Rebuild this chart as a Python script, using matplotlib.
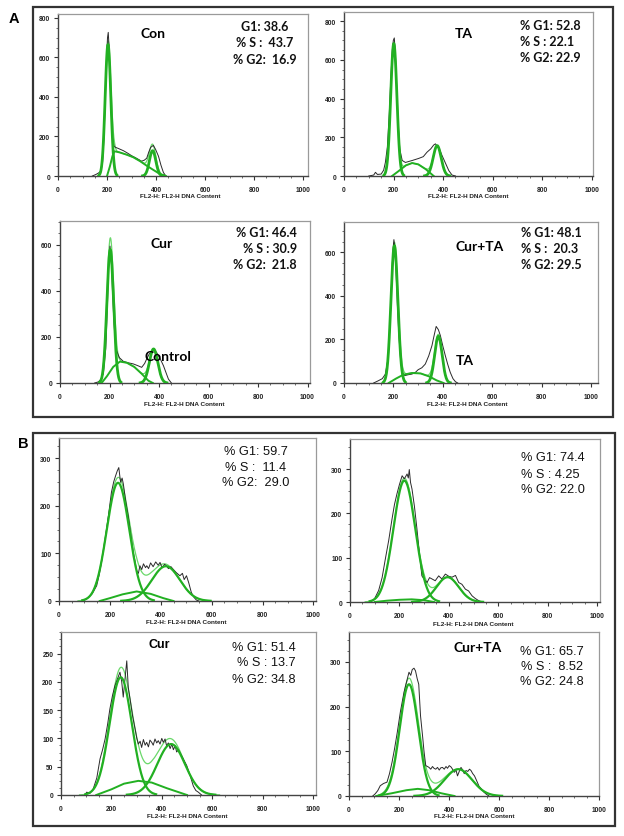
import numpy as np
import matplotlib
matplotlib.use("Agg")
import matplotlib.pyplot as plt
from matplotlib.patches import Rectangle
from matplotlib.ticker import MultipleLocator, AutoMinorLocator

W, H = 624, 837

# ------------------------------------------------------------------ data
# Panel A, "Con"
A_CON_HIST_X = [140, 155, 165, 175, 182, 188, 193, 198, 202, 205, 209, 213, 218, 223, 229, 235, 245, 267, 285, 300, 320, 341, 352, 362, 370, 378, 389, 398, 410, 420, 430, 440]
A_CON_HIST_Y = [0, 8, 15, 25, 70, 200, 400, 600, 700, 727, 640, 470, 300, 190, 150, 145, 140, 128, 115, 103, 90, 75, 80, 90, 120, 145, 155, 135, 100, 55, 18, 0]
A_CON_G1 = [204, 665, 11.5]     # centre, height, sd
A_CON_G2 = [386, 128, 13]
A_CON_S_X = [200, 212, 222, 230, 250, 280, 307, 335, 362, 390, 416, 440]
A_CON_S_Y = [0, 50, 100, 125, 120, 108, 95, 75, 52, 30, 10, 0]
A_CON_STATS = ["G1: 38.6", "% S :  43.7", "% G2:  16.9"]

# Panel A, "TA"
A_TA_HIST_X = [100, 120, 127, 135, 150, 160, 167, 175, 183, 190, 195, 199, 203, 207, 212, 218, 225, 235, 248, 275, 302, 320, 335, 350, 362, 369, 376, 385, 396, 410, 423, 436, 450]
A_TA_HIST_Y = [0, 5, 19, 8, 10, 30, 70, 150, 330, 530, 650, 700, 713, 640, 480, 280, 140, 80, 70, 80, 91, 100, 123, 140, 160, 166, 155, 140, 105, 65, 28, 5, 0]
A_TA_G1 = [201, 684, 12.5]
A_TA_G2 = [376, 157, 16]
A_TA_S_X = [194, 220, 250, 275, 300, 330, 362]
A_TA_S_Y = [0, 25, 55, 67, 60, 35, 0]
A_TA_STATS = ["% G1: 52.8", "% S : 22.1", "% G2: 22.9"]

# Panel A, "Cur"
A_CUR_HIST_X = [140, 155, 165, 175, 185, 192, 197, 202, 207, 212, 218, 224, 229, 240, 256, 275, 296, 315, 330, 342, 350, 360, 370, 380, 390, 405, 418, 430, 438, 450]
A_CUR_HIST_Y = [0, 5, 15, 40, 150, 350, 530, 595, 540, 400, 260, 170, 140, 110, 94, 88, 83, 75, 68, 85, 104, 125, 140, 145, 133, 105, 75, 40, 17, 0]
A_CUR_G1 = [203, 580, 13.5]
A_CUR_G2 = [378, 148, 17]
A_CUR_S_X = [168, 190, 215, 242, 270, 300, 330, 357, 375]
A_CUR_S_Y = [0, 30, 70, 93, 88, 70, 40, 10, 0]
A_CUR_STATS = ["% G1: 46.4", "% S : 30.9", "% G2:  21.8"]

# Panel A, "Cur+TA"
A_CURTA_HIST_X = [120, 140, 155, 167, 178, 186, 193, 198, 202, 206, 211, 216, 222, 230, 238, 246, 260, 275, 290, 300, 315, 329, 343, 356, 365, 373, 382, 390, 400, 410, 420, 430, 441, 451, 460]
A_CURTA_HIST_Y = [0, 11, 20, 40, 110, 260, 470, 610, 659, 620, 500, 360, 220, 90, 45, 34, 38, 41, 50, 61, 70, 87, 125, 172, 220, 260, 245, 218, 170, 126, 85, 49, 20, 6, 0]
A_CURTA_G1 = [204, 631, 14]
A_CURTA_G2 = [382, 215, 15]
A_CURTA_S_X = [181, 210, 240, 275, 310, 345, 375, 403]
A_CURTA_S_Y = [0, 20, 38, 46, 44, 30, 12, 0]
A_CURTA_STATS = ["% G1: 48.1", "% S :  20.3", "% G2: 29.5"]

# Panel B, control
B_CON_HIST_X = [95, 110, 130, 148, 158, 167, 177, 187, 197, 206, 215, 222, 229, 235, 242, 248, 253, 262, 272, 282, 292, 300, 305, 312, 318, 325, 332, 340, 345, 352, 360, 370, 380, 390, 397, 405, 415, 422, 430, 440, 448, 460, 475, 485, 492, 501, 510, 520, 530, 540, 550]
B_CON_HIST_Y = [0, 5, 15, 32, 55, 81, 115, 151, 190, 228, 250, 262, 273, 280, 249, 258, 245, 210, 179, 140, 102, 80, 64, 58, 74, 66, 78, 70, 74, 68, 80, 72, 82, 75, 81, 70, 77, 74, 68, 72, 67, 60, 53, 58, 45, 53, 38, 18, 8, 2, 0]
B_CON_G1 = [232, 248, 44]
B_CON_G2 = [420, 73, 55]
B_CON_S_X = [160, 200, 250, 305, 360, 410, 450]
B_CON_S_Y = [0, 6, 14, 20, 15, 6, 0]
B_CON_STATS = ["% G1: 59.7", "% S :  11.4", "% G2:  29.0"]

# Panel B, TA
B_TA_HIST_X = [85, 100, 116, 130, 143, 157, 170, 180, 190, 200, 211, 220, 231, 236, 240, 245, 251, 261, 271, 281, 291, 302, 312, 322, 332, 345, 359, 372, 386, 400, 413, 427, 440, 453, 467, 480, 494, 507, 521, 535]
B_TA_HIST_Y = [0, 8, 26, 55, 97, 140, 187, 220, 244, 265, 285, 278, 289, 280, 299, 270, 255, 215, 165, 110, 59, 50, 44, 55, 52, 48, 59, 52, 63, 58, 56, 60, 44, 40, 29, 25, 14, 8, 3, 0]
B_TA_G1 = [220, 274, 44]
B_TA_G2 = [395, 56, 45]
B_TA_S_X = [100, 150, 200, 250, 300, 340]
B_TA_S_Y = [0, 3, 5, 6, 4, 0]
B_TA_STATS = ["% G1: 74.4", "% S : 4.25", "% G2: 22.0"]

# Panel B, Cur
B_CUR_HIST_X = [95, 102, 115, 128, 142, 155, 165, 175, 185, 194, 204, 214, 224, 234, 241, 247, 254, 261, 267, 274, 284, 294, 301, 307, 314, 320, 327, 334, 340, 347, 353, 360, 366, 373, 380, 386, 393, 400, 406, 413, 419, 426, 433, 440, 446, 453, 459, 466, 472, 485, 499, 512, 525, 535, 545, 558]
B_CUR_HIST_Y = [0, 5, 3, 11, 30, 64, 80, 99, 125, 152, 175, 193, 205, 217, 200, 173, 205, 237, 190, 170, 140, 117, 100, 90, 95, 84, 98, 88, 93, 85, 97, 93, 88, 99, 92, 96, 90, 100, 93, 99, 87, 92, 82, 90, 80, 87, 76, 80, 75, 64, 52, 35, 16, 8, 5, 0]
B_CUR_G1 = [237, 208, 44]
B_CUR_G2 = [437, 90, 55]
B_CUR_S_X = [140, 200, 250, 307, 360, 420, 500]
B_CUR_S_Y = [0, 10, 20, 25, 22, 12, 0]
B_CUR_STATS = ["% G1: 51.4", "% S : 13.7", "% G2: 34.8"]

# Panel B, Cur+TA
B_CURTA_HIST_X = [95, 105, 115, 125, 138, 152, 162, 172, 182, 193, 206, 220, 230, 240, 247, 253, 260, 266, 273, 279, 286, 295, 300, 307, 314, 320, 327, 334, 340, 347, 354, 361, 367, 374, 381, 388, 394, 401, 408, 414, 421, 428, 434, 441, 448, 455, 461, 468, 475, 482, 488, 495, 502, 510, 520, 529, 539, 549, 560]
B_CURTA_HIST_Y = [0, 5, 12, 23, 28, 31, 50, 75, 105, 142, 190, 232, 255, 277, 270, 283, 286, 280, 262, 250, 180, 130, 100, 68, 66, 64, 60, 66, 62, 60, 64, 58, 63, 64, 60, 66, 62, 68, 65, 60, 53, 58, 45, 55, 64, 58, 50, 57, 55, 60, 57, 50, 45, 35, 22, 16, 9, 4, 0]
B_CURTA_G1 = [240, 250, 37]
B_CURTA_G2 = [437, 60, 55]
B_CURTA_S_X = [110, 170, 230, 275, 320, 370, 422]
B_CURTA_S_Y = [0, 6, 13, 16, 13, 6, 0]
B_CURTA_STATS = ["% G1: 65.7", "% S :  8.52", "% G2: 24.8"]

X_TICKS = [0, 200, 400, 600, 800, 1000]
X_LABEL = "FL2-H: FL2-H DNA Content"

# ------------------------------------------------------------------ figure
fig = plt.figure(figsize=(W / 100, H / 100), dpi=100)
fig.patch.set_facecolor("white")

def fx(x):
    return x / W

def fy(y):
    return 1 - y / H

# panel frames
for (l, t, r, b) in [(33, 8, 613, 418), (33, 434, 615, 827)]:
    fig.add_artist(Rectangle((fx(l), fy(b)), (r - l) / W, (b - t) / H,
                             transform=fig.transFigure, fill=False,
                             edgecolor="#333333", linewidth=1.6))

fig.text(fx(14), fy(19), "A", fontsize=10.5, fontweight="bold",
         family="Liberation Sans", ha="center", va="center")
fig.text(fx(23), fy(444), "B", fontsize=10.5, fontweight="bold",
         family="Liberation Sans", ha="center", va="center")

GREEN = "#22b022"
SUMGREEN = "#6ad86a"

def gauss_curve(xg, p):
    c, h, s = p
    return h * np.exp(-0.5 * ((xg - c) / s) ** 2)

def make_panel(rect, xmax, ymax, ystep, hx, hy, g1, g2, sx, sy, label_y, glw):
    l, t, r, b = rect
    ax = fig.add_axes([fx(l), fy(b), (r - l) / W, (b - t) / H])
    xg = np.linspace(0, xmax, 1500)
    y1 = gauss_curve(xg, g1)
    y2 = gauss_curve(xg, g2)
    ys = np.interp(xg, sx, sy)
    tot = y1 + y2 + ys
    m1 = np.abs(xg - g1[0]) <= 3.2 * g1[2]
    m2 = np.abs(xg - g2[0]) <= 3.2 * g2[2]
    mt = tot > 0.4 * ystep / 100
    ax.plot(xg[mt], tot[mt], color=SUMGREEN, lw=0.9, zorder=2)
    ax.plot(hx, hy, color="#2a2a2a", lw=0.7, zorder=3)
    ax.plot(xg[m1], y1[m1], color=GREEN, lw=glw, zorder=4)
    ax.plot(xg[m2], y2[m2], color=GREEN, lw=glw, zorder=4)
    ax.plot(sx, sy, color=GREEN, lw=1.4, zorder=4)
    ax.set_xlim(0, xmax)
    ax.set_ylim(0, ymax)
    ax.set_xticks(X_TICKS)
    ax.yaxis.set_major_locator(MultipleLocator(ystep))
    ax.xaxis.set_minor_locator(MultipleLocator(50))
    ax.yaxis.set_minor_locator(AutoMinorLocator(4))
    ax.tick_params(which="major", direction="out", length=3, width=0.8,
                   labelsize=4.8, pad=2.5, colors="#333333")
    ax.tick_params(which="minor", direction="out", length=1.6, width=0.6,
                   colors="#555555")
    ax.tick_params(axis="x", pad=4)
    for lab in ax.get_xticklabels() + ax.get_yticklabels():
        lab.set_fontweight("bold")
        lab.set_family("Liberation Sans")
        lab.set_color("#222222")
    for side in ["top", "right"]:
        ax.spines[side].set_color("#9a9a9a")
        ax.spines[side].set_linewidth(0.9)
    for side in ["left", "bottom"]:
        ax.spines[side].set_color("#444444")
        ax.spines[side].set_linewidth(1.0)
    scale = (r - l) / xmax
    fig.text(fx(l + 500 * scale), fy(label_y), X_LABEL, fontsize=4.6,
             fontweight="bold", family="Liberation Sans", ha="center",
             va="center", color="#222222")
    return ax

def stats(lines, x, ys, ha, font, size):
    for s, y in zip(lines, ys):
        fig.text(fx(x), fy(y), s, fontsize=size,
                 fontweight="bold" if font == "Lato" else "normal",
                 family=font, ha=ha, va="center", color="#111111")

# ----- panel A
make_panel((58, 15, 308, 177), 1020, 820, 200, A_CON_HIST_X, A_CON_HIST_Y,
           A_CON_G1, A_CON_G2, A_CON_S_X, A_CON_S_Y, 197, 2.0)
make_panel((344, 13, 593, 177), 1005, 847, 200, A_TA_HIST_X, A_TA_HIST_Y,
           A_TA_G1, A_TA_G2, A_TA_S_X, A_TA_S_Y, 197, 2.0)
make_panel((60, 222, 310, 384), 1010, 704, 200, A_CUR_HIST_X, A_CUR_HIST_Y,
           A_CUR_G1, A_CUR_G2, A_CUR_S_X, A_CUR_S_Y, 405, 2.0)
make_panel((344, 223, 598, 384), 1028, 740, 200, A_CURTA_HIST_X, A_CURTA_HIST_Y,
           A_CURTA_G1, A_CURTA_G2, A_CURTA_S_X, A_CURTA_S_Y, 405, 2.0)

TITLE_KW = dict(fontsize=10, fontweight="bold", family="Lato", ha="center", va="center")
fig.text(fx(153), fy(34), "Con", **TITLE_KW)
fig.text(fx(464), fy(34), "TA", **TITLE_KW)
fig.text(fx(162), fy(244), "Cur", **TITLE_KW)
fig.text(fx(480), fy(247), "Cur+TA", **TITLE_KW)
fig.text(fx(168), fy(357), "Control", **TITLE_KW)
fig.text(fx(465), fy(361), "TA", **TITLE_KW)

stats(A_CON_STATS, 265, [27, 43, 60], "center", "Lato", 9)
stats(A_TA_STATS, 520, [26, 42, 58], "left", "Lato", 9)
stats(A_CUR_STATS, 297, [233, 249, 265], "right", "Lato", 9)
stats(A_CURTA_STATS, 521, [233, 249, 265], "left", "Lato", 9)

# ----- panel B
make_panel((59, 439, 316, 602), 1010, 342, 100, B_CON_HIST_X, B_CON_HIST_Y,
           B_CON_G1, B_CON_G2, B_CON_S_X, B_CON_S_Y, 623, 1.6)
make_panel((350, 440, 600, 603), 1012, 368, 100, B_TA_HIST_X, B_TA_HIST_Y,
           B_TA_G1, B_TA_G2, B_TA_S_X, B_TA_S_Y, 625, 1.6)
make_panel((61, 633, 316, 796), 1012, 288, 50, B_CUR_HIST_X, B_CUR_HIST_Y,
           B_CUR_G1, B_CUR_G2, B_CUR_S_X, B_CUR_S_Y, 817, 1.6)
make_panel((349, 633, 599, 797), 1000, 367, 100, B_CURTA_HIST_X, B_CURTA_HIST_Y,
           B_CURTA_G1, B_CURTA_G2, B_CURTA_S_X, B_CURTA_S_Y, 817, 1.6)

fig.text(fx(159), fy(645), "Cur", fontsize=9, fontweight="bold",
         family="Liberation Sans", ha="center", va="center")
fig.text(fx(478), fy(648), "Cur+TA", **TITLE_KW)

stats(B_CON_STATS, 256, [452, 468, 483], "center", "Liberation Sans", 9.2)
stats(B_TA_STATS, 521, [458, 475, 490], "left", "Liberation Sans", 9.2)
stats(B_CUR_STATS, 296, [648, 663, 680], "right", "Liberation Sans", 9.2)
stats(B_CURTA_STATS, 552, [652, 667, 682], "center", "Liberation Sans", 9.2)

fig.savefig("out.png", dpi=100, facecolor="white")
